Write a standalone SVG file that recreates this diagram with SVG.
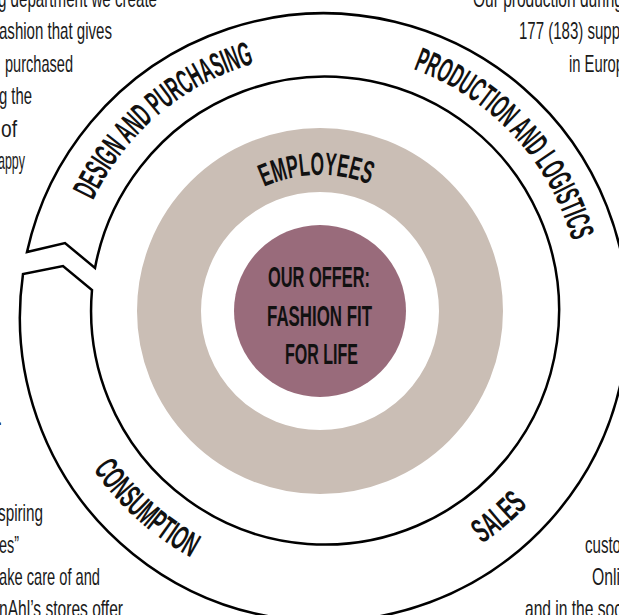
<svg xmlns="http://www.w3.org/2000/svg" xmlns:xlink="http://www.w3.org/1999/xlink" width="619" height="615" viewBox="0 0 619 615">
<style>
.lbl{font-family:"Liberation Sans Narrow","Liberation Sans",Arial,sans-serif;font-weight:bold;font-size:34px;fill:#111}
.emp{font-family:"Liberation Sans Narrow","Liberation Sans",Arial,sans-serif;font-weight:bold;font-size:32px;fill:#111}
.ctr{font-family:"Liberation Sans Narrow","Liberation Sans",Arial,sans-serif;font-weight:bold;font-size:30px;fill:#111;text-anchor:middle}
.body{font-family:"Liberation Sans Narrow","Liberation Sans",Arial,sans-serif;font-size:24px;fill:#1a1a1a}
.end{text-anchor:end}
.band{fill:#fff;stroke:#000;stroke-width:2.5;stroke-linejoin:miter}
</style>
<defs>
<path id="pDesign" d="M72.72,356.30 A256.5,256.5 0 0 1 411.04,68.36"/>
<path id="pProd" d="M268.39,59.83 A256.5,256.5 0 0 1 569.96,386.06"/>
<path id="pSales" d="M228.72,574.52 A281.5,281.5 0 0 0 602.23,261.12"/>
<path id="pCons" d="M49.65,251.47 A281.5,281.5 0 0 0 411.99,577.72"/>
<path id="pEmp" d="M200.48,245.98 A136,136 0 0 1 435.96,239.94"/>
</defs>
<rect width="619" height="615" fill="#fff"/>

<g id="value-ring">
<path class="band" d="M27,252 A304,304 0 1 1 23,274 L63,266 L92,290 A234,234 0 1 0 95,268 L65,243 Z"/>
<text class="lbl"><textPath xlink:href="#pDesign" href="#pDesign" startOffset="50%" text-anchor="middle" textLength="218" lengthAdjust="spacingAndGlyphs">DESIGN AND PURCHASING</textPath></text>
<text class="lbl"><textPath xlink:href="#pProd" href="#pProd" startOffset="50%" text-anchor="middle" textLength="243" lengthAdjust="spacingAndGlyphs">PRODUCTION AND LOGISTICS</textPath></text>
<text class="lbl"><textPath xlink:href="#pSales" href="#pSales" startOffset="50%" text-anchor="middle" textLength="60" lengthAdjust="spacingAndGlyphs">SALES</textPath></text>
<text class="lbl"><textPath xlink:href="#pCons" href="#pCons" startOffset="50%" text-anchor="middle" textLength="133" lengthAdjust="spacingAndGlyphs">CONSUMPTION</textPath></text>
</g>

<g id="employees">
<circle cx="320" cy="311" r="151" fill="none" stroke="#cabeb5" stroke-width="64"/>
<text class="emp"><textPath xlink:href="#pEmp" href="#pEmp" startOffset="50%" text-anchor="middle" textLength="108" lengthAdjust="spacingAndGlyphs">EMPLOYEES</textPath></text>
</g>

<g id="offer">
<circle cx="320" cy="311" r="86" fill="#996b7b"/>
<text class="ctr" x="319" y="287" textLength="102" lengthAdjust="spacingAndGlyphs">OUR OFFER:</text>
<text class="ctr" x="319.5" y="326" textLength="105" lengthAdjust="spacingAndGlyphs">FASHION FIT</text>
<text class="ctr" x="321.5" y="364" textLength="73" lengthAdjust="spacingAndGlyphs">FOR LIFE</text>
</g>

<g id="side-texts">
<text class="body end" x="157" y="7" textLength="159" lengthAdjust="spacingAndGlyphs">g department we create</text>
<text class="body end" x="112" y="39" textLength="113" lengthAdjust="spacingAndGlyphs">ashion that gives</text>
<text class="body end" x="73" y="72" textLength="68" lengthAdjust="spacingAndGlyphs">purchased</text>
<text class="body end" x="32" y="104" textLength="33" lengthAdjust="spacingAndGlyphs">g the</text>
<text class="body end" x="17" y="137" textLength="16" lengthAdjust="spacingAndGlyphs">of</text>
<text class="body end" x="25" y="169" textLength="27" lengthAdjust="spacingAndGlyphs">appy</text>

<text class="body" x="473" y="7" textLength="150" lengthAdjust="spacingAndGlyphs">Our production during</text>
<text class="body" x="519" y="39" textLength="101" lengthAdjust="spacingAndGlyphs">177 (183) supp</text>
<text class="body" x="569" y="72" textLength="55" lengthAdjust="spacingAndGlyphs">in Europ</text>

<text class="body end" x="3" y="425">.</text>
<text class="body end" x="43" y="521" textLength="45" lengthAdjust="spacingAndGlyphs">spiring</text>
<text class="body end" x="19" y="553" textLength="20" lengthAdjust="spacingAndGlyphs">es”</text>
<text class="body end" x="100" y="585" textLength="101" lengthAdjust="spacingAndGlyphs">ake care of and</text>
<text class="body end" x="123" y="617" textLength="124" lengthAdjust="spacingAndGlyphs">nAhl’s stores offer</text>

<text class="body" x="585" y="553" textLength="36" lengthAdjust="spacingAndGlyphs">custo</text>
<text class="body" x="592" y="585" textLength="28" lengthAdjust="spacingAndGlyphs">Onli</text>
<text class="body" x="525" y="617" textLength="97" lengthAdjust="spacingAndGlyphs">and in the soc</text>
</g>
</svg>
